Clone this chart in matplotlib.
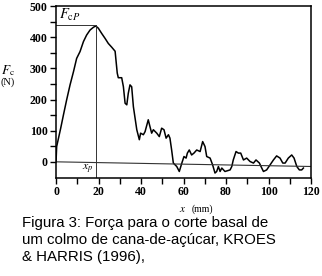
import matplotlib
matplotlib.use("Agg")
import matplotlib.pyplot as plt

# force curve (x in mm, force in N)
x_mm = [0, 0.3, 1.1, 2.2, 3.5, 5.0, 6.6, 8.2, 9.7, 11.3, 12.9, 14.4, 16.0, 17.6,
        18.7, 19.9, 21.5, 23.1, 24.6, 26.2, 27.8, 28.8, 29.3, 30.9, 31.7, 32.5,
        33.3, 34.0, 34.8, 35.6, 36.4, 37.2, 38.0, 39.2, 39.8, 41.1, 41.9, 43.4,
        44.2, 45.0, 45.8, 47.4, 48.6, 49.7, 50.8, 51.8, 52.9, 53.6, 54.4, 55.2,
        56.8, 58.0, 59.2, 60.2, 61.2, 61.8, 62.7, 63.8, 64.9, 66.2, 67.8, 69.0,
        70.1, 70.9, 72.5, 73.7, 74.8, 75.6, 76.4, 77.2, 78.0, 79.5, 81.9, 82.7,
        83.4, 84.7, 85.8, 86.9, 88.2, 89.7, 91.3, 92.9, 94.1, 95.7, 96.8, 97.6,
        99.1, 100.7, 102.3, 103.8, 105.4, 106.7, 107.8, 109.3, 110.9, 112.0,
        113.3, 114.5, 115.6, 116.4]
force_n = [0, 49, 74, 108, 151, 199, 247, 289, 332, 354, 386, 407, 423, 432,
           436, 429, 412, 396, 380, 368, 355, 285, 270, 270, 241, 188,
           183, 220, 247, 241, 177, 140, 103, 71, 92, 87, 97, 135,
           113, 92, 103, 92, 81, 108, 103, 76, 87, 76, 38, -4,
           -15, -31, -4, 17, 12, 28, 38, 22, 28, 38, 33, 65,
           49, 17, 12, -10, -36, -31, -15, -31, -20, -31, -26, -15,
           6, 33, 28, 28, 6, 12, 1, -4, 6, -4, -20, -31,
           -26, -10, 6, 19, 12, -4, -4, 12, 22, 12,
           -15, -26, -26, -20]

x_peak = 18.7
f_peak = 438
zero_x = [0, 120]
zero_y = [0, -15]

plt.rcParams['mathtext.fontset'] = 'stix'

fig = plt.figure(figsize=(3.22, 2.76), dpi=100)
ax = fig.add_axes([0.174, 0.355, 0.792, 0.623])

ax.plot(x_mm, force_n, color="black", lw=1.1)
ax.plot(zero_x, zero_y, color="#333333", lw=0.8)
ax.plot([x_peak, x_peak], [-52, f_peak], color="#333333", lw=0.7)
ax.plot([0, x_peak], [f_peak, f_peak], color="#333333", lw=0.7)

ax.set_xlim(0, 120)
ax.set_ylim(-52, 500)
ax.set_xticks(range(0, 121, 20))
ax.set_xticks(range(10, 120, 20), minor=True)
ax.set_yticks(range(0, 501, 100))
ax.set_yticks(range(50, 500, 100), minor=True)
ax.tick_params(which="both", direction="out", length=4, width=1.0,
               labelsize=8.5, pad=2)
for lab in ax.get_xticklabels() + ax.get_yticklabels():
    lab.set_fontfamily("Liberation Serif")
    lab.set_fontweight("bold")
for s in ax.spines.values():
    s.set_linewidth(1.1)

ax.text(1.5, 446, r"$F_{\mathrm{c}P}$", fontsize=10.5, ha="left", va="bottom")
ax.text(x_peak - 1, -47, r"$x_p$", fontsize=8.5, ha="right", va="bottom")

fig.text(0.025, 0.746, r"$F_{\mathrm{c}}$", fontsize=9.5, ha="center", va="center")
fig.text(0.024, 0.703, "(N)", fontsize=7.5, ha="center", va="center",
         family="Liberation Serif")
fig.text(0.568, 0.242, "$x$", fontsize=8, ha="center", va="center")
fig.text(0.628, 0.242, "(mm)", fontsize=7, ha="center", va="center",
         family="Liberation Serif")

caption = ("Figura 3: Força para o corte basal de\n"
           "um colmo de cana-de-açúcar, KROES\n"
           "& HARRIS (1996),")
fig.text(0.068, 0.218, caption, fontsize=10.8, family="Liberation Sans",
         ha="left", va="top", linespacing=1.3)

fig.savefig("out.png", dpi=100)
